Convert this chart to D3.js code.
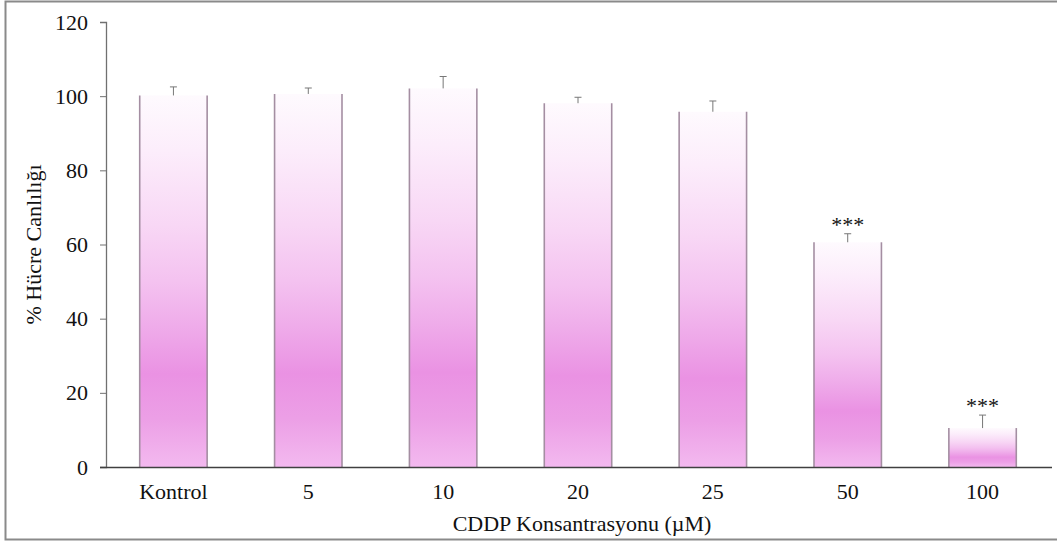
<!DOCTYPE html>
<html>
<head>
<meta charset="utf-8">
<script src="https://cdn.jsdelivr.net/npm/d3@7"></script>
<style>
  body { margin: 0; background: #fff; }
  svg text { font-family: "Liberation Serif", "Times New Roman", serif; fill: #111; }
</style>
</head>
<body>
<div id="chart"></div>
<script>
// values
const categories = ["Kontrol", "5", "10", "20", "25", "50", "100"];
const viability = [100.2, 100.6, 102.1, 98.1, 95.8, 60.6, 10.5];
const errors = [2.3, 1.6, 3.2, 1.6, 2.9, 2.3, 3.5];
const significance = ["", "", "", "", "", "***", "***"];
const yTicks = [0, 20, 40, 60, 80, 100, 120];

const W = 1057, H = 543;
const margin = { top: 22, right: 7, bottom: 76, left: 106 };

const svg = d3
  .select("#chart")
  .append("svg")
  .attr("width", W)
  .attr("height", H);

// outer frame
svg
  .append("rect")
  .attr("x", 5.5)
  .attr("y", 1.5)
  .attr("width", W)
  .attr("height", 538)
  .attr("fill", "none")
  .attr("stroke", "#8a8a8a")
  .attr("stroke-width", 2);

// bar gradient (light top, darker lower part)
const grad = svg
  .append("defs")
  .append("linearGradient")
  .attr("id", "barGrad")
  .attr("x1", 0).attr("y1", 0)
  .attr("x2", 0).attr("y2", 1);
[
  [0, "#fefafe"],
  [0.15, "#fcedfb"],
  [0.35, "#f8d7f5"],
  [0.5, "#f4c2f0"],
  [0.62, "#efaceA"],
  [0.75, "#ea92e3"],
  [0.87, "#ec9fe6"],
  [1, "#f3b9ef"],
].forEach(([o, c]) => grad.append("stop").attr("offset", o).attr("stop-color", c));

const x = d3
  .scaleBand()
  .domain(categories)
  .range([margin.left, W - margin.right])
  .paddingInner(0.5)
  .paddingOuter(0.25);

const y = d3
  .scaleLinear()
  .domain([0, 120])
  .range([H - margin.bottom, margin.top]);

const data = categories.map((c, i) => ({
  name: c,
  value: viability[i],
  err: errors[i],
  sig: significance[i],
}));

// bars
const bars = svg.append("g").selectAll("g").data(data).enter().append("g");

bars
  .append("rect")
  .attr("x", (d) => x(d.name))
  .attr("y", (d) => y(d.value))
  .attr("width", x.bandwidth())
  .attr("height", (d) => y(0) - y(d.value))
  .attr("fill", "url(#barGrad)");

// shaded side edges
[0, 1].forEach((side) => {
  bars
    .append("line")
    .attr("x1", (d) => x(d.name) + side * x.bandwidth())
    .attr("x2", (d) => x(d.name) + side * x.bandwidth())
    .attr("y1", (d) => y(d.value))
    .attr("y2", y(0))
    .attr("stroke", "#a48ea2")
    .attr("stroke-width", 1.6);
});

// error bars (upper only)
const cx = (d) => x(d.name) + x.bandwidth() / 2;
bars
  .append("line")
  .attr("x1", cx)
  .attr("x2", cx)
  .attr("y1", (d) => y(d.value))
  .attr("y2", (d) => y(d.value + d.err))
  .attr("stroke", "#777")
  .attr("stroke-width", 1);
bars
  .append("line")
  .attr("x1", (d) => cx(d) - 3.5)
  .attr("x2", (d) => cx(d) + 3.5)
  .attr("y1", (d) => y(d.value + d.err))
  .attr("y2", (d) => y(d.value + d.err))
  .attr("stroke", "#777")
  .attr("stroke-width", 1);

// significance stars
bars
  .filter((d) => d.sig)
  .append("text")
  .attr("x", cx)
  .attr("y", (d) => y(d.value + d.err) - 2)
  .attr("text-anchor", "middle")
  .style("font-size", "22px")
  .text((d) => d.sig);

// y axis
const yAxis = svg
  .append("g")
  .attr("transform", `translate(${margin.left},0)`)
  .call(d3.axisLeft(y).tickValues(yTicks).tickSize(6).tickPadding(12));
yAxis.select(".domain").attr("stroke", "#707070").attr("stroke-width", 1.3);
yAxis.selectAll(".tick line").attr("stroke", "#707070");
yAxis.selectAll("text").style("font-size", "22px").attr("fill", "#111");

// x axis
const xAxis = svg
  .append("g")
  .attr("transform", `translate(0,${y(0)})`)
  .call(d3.axisBottom(x).tickSize(0).tickPadding(16));
xAxis
  .select(".domain")
  .attr("d", `M${margin.left - 6},0.5H${W - 5}`)
  .attr("stroke", "#404040")
  .attr("stroke-width", 1.3);
xAxis.selectAll("text").style("font-size", "22px").attr("fill", "#111");

// axis titles
svg
  .append("text")
  .attr("x", (margin.left + W - margin.right) / 2 + 4)
  .attr("y", 531)
  .attr("text-anchor", "middle")
  .style("font-size", "22px")
  .text("CDDP Konsantrasyonu (µM)");

svg
  .append("text")
  .attr("transform", "rotate(-90)")
  .attr("x", -(margin.top + H - margin.bottom) / 2)
  .attr("y", 41)
  .attr("text-anchor", "middle")
  .style("font-size", "22px")
  .text("% Hücre Canlılığı");
</script>
</body>
</html>
